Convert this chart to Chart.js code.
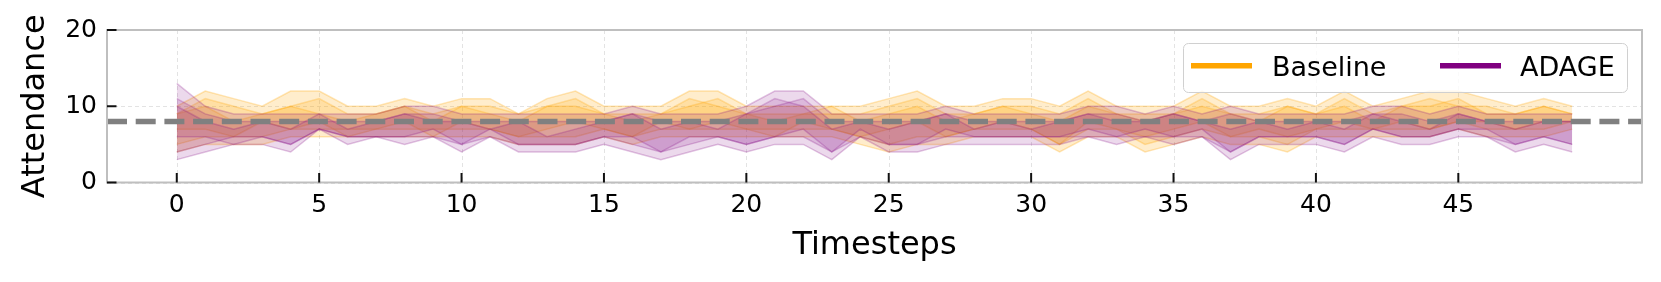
<!DOCTYPE html>
<html><head><meta charset="utf-8">
<script src="https://cdn.jsdelivr.net/npm/chart.js@4.4.0/dist/chart.umd.min.js"></script>
<style>html,body{margin:0;padding:0;background:#fff;overflow:hidden}canvas{display:block}</style>
</head><body>
<canvas id="c" width="1661" height="282"></canvas>
<script>
// ---- data ----
const timesteps = [0,1,2,3,4,5,6,7,8,9,10,11,12,13,14,15,16,17,18,19,20,21,22,23,24,25,26,27,28,29,30,31,32,33,34,35,36,37,38,39,40,41,42,43,44,45,46,47,48,49];
const xTickValues = [0,5,10,15,20,25,30,35,40,45];
const yTickValues = [0,10,20];
const xMin = -2.45, xMax = 51.45, yMin = 0, yMax = 20;
const threshold = 8;
const seriesNames = ['Baseline','ADAGE'];

// Baseline bands (upper / lower per run)
const baselineUpperA = [10,12,11,10,12,12,10,10,11,10, 11,11,9,11,12,10,10,10,12,12, 10,10,10,10,10,11,12,10,10,11, 11,10,12,10,10,10,12,10,10,11, 10,12,10,11,12,12,11,10,11,10];
const baselineLowerA = [4,5,5,5,6,6,6,6,6,6, 6,6,5,5,5,6,5,6,6,6, 6,6,6,6,5,4,5,5,6,6, 6,4,6,6,4,5,6,5,5,4, 6,6,6,6,6,7,6,6,6,7];
const baselineUpperB = [9,11,10,9,10,11,9,9,10,9, 10,10,9,10,11,9,9,9,11,10, 9,9,9,9,9,10,11,9,9,10, 10,9,11,9,9,9,11,9,9,10, 9,11,9,10,11,10,10,9,10,9];
const baselineLowerB = [5,6,6,6,7,7,7,7,7,7, 7,7,6,6,6,7,6,7,7,7, 7,7,7,7,6,5,6,6,7,7, 7,5,7,7,5,6,7,6,6,5, 7,7,7,7,7,8,7,7,7,8];
const baselineUpperC = [9,10,8,9,10,9,8,9,10,8, 10,9,8,10,10,9,8,9,10,11, 9,8,9,10,8,9,10,8,9,10, 9,8,10,9,8,9,10,9,8,10, 9,10,8,10,10,11,9,9,10,9];
const baselineLowerC = [7,7,6,8,7,8,6,7,8,6, 8,7,6,7,8,7,6,8,7,8, 7,6,8,7,6,7,8,6,7,8, 7,5,8,7,6,7,8,6,7,6, 7,8,7,8,7,8,8,7,8,8];

// ADAGE bands
const adageUpperA = [13,10,9,9,9,9,9,9,10,10, 9,9,9,9,9,9,10,9,9,9, 10,12,12,9,9,9,9,10,9,9, 9,9,10,10,9,10,9,10,9,9, 9,9,10,10,9,10,9,9,9,9];
const adageLowerA = [3,4,5,5,4,7,5,6,5,6, 4,6,4,4,4,5,4,3,4,5, 4,5,5,3,6,4,4,5,5,5, 5,5,6,5,6,5,6,3,5,5, 5,4,6,5,5,6,6,4,5,4];
const adageUpperB = [11,9,8,8,8,8,8,8,9,9, 8,8,8,8,8,8,9,8,8,8, 9,10,11,8,8,8,8,9,8,8, 8,8,9,9,8,9,8,9,8,8, 8,8,9,9,8,9,8,8,8,8];
const adageLowerB = [4,5,6,6,5,7,6,6,6,6, 5,6,5,5,5,6,5,4,5,6, 5,6,6,4,6,5,5,6,6,6, 6,6,6,6,6,6,6,4,6,6, 6,5,7,6,6,7,6,5,6,5];
const adageUpperC = [10,8,7,8,7,9,7,8,9,8, 8,7,8,6,7,8,9,7,8,7, 9,11,10,7,8,7,8,9,7,8, 7,8,9,8,8,9,8,7,8,7, 8,7,9,8,7,9,8,7,8,8];
const adageLowerC = [6,6,5,6,5,7,6,6,6,7, 5,7,5,5,5,6,6,4,6,6, 5,6,7,4,7,5,5,7,6,6, 6,6,7,6,7,6,7,4,6,6, 6,5,7,6,6,7,7,5,6,5];

// ---- build datasets ----
const ORANGE = [255,165,0], PURPLE = [128,0,128];
const rgba = (c,a)=>`rgba(${c[0]},${c[1]},${c[2]},${a})`;
const pts = arr => timesteps.map((t,i)=>({x:t,y:arr[i]}));
const datasets = [];
function addBand(up, lo, col, order, a){
  datasets.push({data:pts(up), borderColor:rgba(col,a+0.08), borderWidth:1.5, backgroundColor:rgba(col,a), fill:'+1', pointRadius:0, tension:0, order});
  datasets.push({data:pts(lo), borderColor:rgba(col,a+0.08), borderWidth:1.5, backgroundColor:rgba(col,a), fill:false, pointRadius:0, tension:0, order});
}
addBand(baselineUpperA, baselineLowerA, ORANGE, 3, 0.2);
addBand(baselineUpperB, baselineLowerB, ORANGE, 3, 0.2);
addBand(baselineUpperC, baselineLowerC, ORANGE, 3, 0.2);
addBand(adageUpperA, adageLowerA, PURPLE, 2, 0.15);
addBand(adageUpperB, adageLowerB, PURPLE, 2, 0.15);
addBand(adageUpperC, adageLowerC, PURPLE, 2, 0.15);
datasets.push({data:[{x:xMin,y:threshold},{x:xMax,y:threshold}], borderColor:'#808080', borderWidth:5.3, borderDash:[20,8.7], borderCapStyle:'butt', fill:false, pointRadius:0, order:0});

const FONT = 'DejaVu Sans';

const gridPlugin = {
  id:'gridPlugin',
  beforeDatasetsDraw(chart){
    const {ctx, chartArea:a, scales:{x,y}} = chart;
    ctx.save();
    ctx.strokeStyle='rgba(0,0,0,0.11)'; ctx.lineWidth=1; ctx.setLineDash([4,3]);
    xTickValues.forEach(v=>{const px=Math.round(x.getPixelForValue(v))+0.5; ctx.beginPath(); ctx.moveTo(px,a.top); ctx.lineTo(px,a.bottom); ctx.stroke();});
    yTickValues.forEach(v=>{const py=Math.round(y.getPixelForValue(v))+0.5; ctx.beginPath(); ctx.moveTo(a.left,py); ctx.lineTo(a.right,py); ctx.stroke();});
    ctx.restore();
  },
  afterDatasetsDraw(chart){
    const {ctx, chartArea:a, scales:{x,y}} = chart;
    ctx.save();
    ctx.strokeStyle='#bfbfbf'; ctx.lineWidth=2; ctx.setLineDash([]);
    ctx.strokeRect(a.left, a.top, a.right-a.left, a.bottom-a.top);
    ctx.strokeStyle='#111'; ctx.lineWidth=2;
    xTickValues.forEach(v=>{const px=x.getPixelForValue(v); ctx.beginPath(); ctx.moveTo(px,a.bottom); ctx.lineTo(px,a.bottom-9.5); ctx.stroke();});
    yTickValues.forEach(v=>{const py=y.getPixelForValue(v); ctx.beginPath(); ctx.moveTo(a.left,py); ctx.lineTo(a.left+9.5,py); ctx.stroke();});
    ctx.restore();
  },
  afterDraw(chart){
    const {ctx} = chart;
    ctx.save();
    ctx.beginPath();
    ctx.roundRect(1183.5, 43.5, 444, 49, 5);
    ctx.fillStyle='rgba(255,255,255,0.8)'; ctx.fill();
    ctx.strokeStyle='#d0d0d0'; ctx.lineWidth=1; ctx.stroke();
    ctx.lineWidth=5.5; ctx.lineCap='butt';
    ctx.strokeStyle=rgba(ORANGE,1); ctx.beginPath(); ctx.moveTo(1191,65.7); ctx.lineTo(1252,65.7); ctx.stroke();
    ctx.strokeStyle=rgba(PURPLE,1); ctx.beginPath(); ctx.moveTo(1440,65.7); ctx.lineTo(1501,65.7); ctx.stroke();
    ctx.fillStyle='#000'; ctx.font=`27px "${FONT}"`; ctx.textBaseline='alphabetic'; ctx.textAlign='left';
    ctx.fillText(seriesNames[0], 1272, 76);
    ctx.fillText(seriesNames[1], 1520, 76);
    ctx.restore();
  }
};

new Chart(document.getElementById('c'), {
  type:'line',
  data:{datasets},
  plugins:[gridPlugin],
  options:{
    responsive:false, animation:false, devicePixelRatio:1,
    layout:{padding:{left:0,right:19,top:30,bottom:0}},
    plugins:{legend:{display:false}, tooltip:{enabled:false}},
    scales:{
      x:{type:'linear', min:xMin, max:xMax,
         afterBuildTicks:s=>{s.ticks=xTickValues.map(v=>({value:v}));},
         afterFit:s=>{s.height=99.5;},
         grid:{display:false, drawTicks:false}, border:{display:false},
         ticks:{autoSkip:false, maxRotation:0, padding:8, color:'#000', font:{family:FONT,size:25}},
         title:{display:true, text:'Timesteps', color:'#000', font:{family:FONT,size:32}, padding:{top:0,bottom:17.4}}},
      y:{type:'linear', min:yMin, max:yMax,
         afterBuildTicks:s=>{s.ticks=yTickValues.map(v=>({value:v}));},
         afterFit:s=>{s.width=107;},
         grid:{display:false, drawTicks:false}, border:{display:false},
         ticks:{padding:10, color:'#000', font:{family:FONT,size:25}},
         title:{display:true, text:'Attendance', color:'#000', font:{family:FONT,size:32}, padding:{top:16,bottom:0}}}
    }
  }
});
</script>
</body></html>
